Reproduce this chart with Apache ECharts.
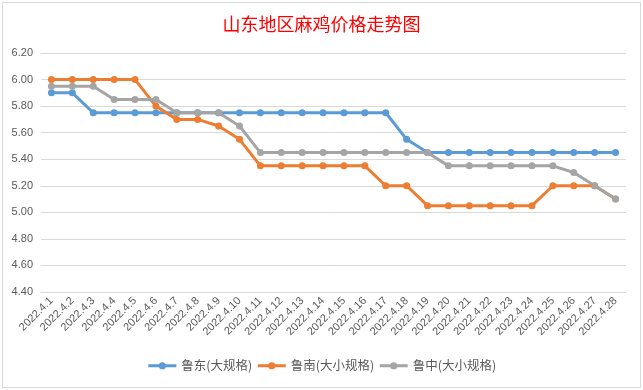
<!DOCTYPE html>
<html>
<head>
<meta charset="utf-8">
<script src="https://cdn.jsdelivr.net/npm/echarts@6/dist/echarts.min.js"></script>
<style>
html,body{margin:0;padding:0;background:#fff;}
#wrap{position:relative;width:643px;height:390px;}
#chart{position:absolute;left:0;top:0;width:643px;height:390px;}
#border{position:absolute;left:2px;top:2px;width:637px;height:384px;border:1px solid #d9d9d9;pointer-events:none;}
</style>
</head>
<body>
<div id="wrap"><div id="chart"></div><div id="border"></div></div>
<script>
const categories = ["2022.4.1","2022.4.2","2022.4.3","2022.4.4","2022.4.5","2022.4.6","2022.4.7","2022.4.8","2022.4.9","2022.4.10","2022.4.11","2022.4.12","2022.4.13","2022.4.14","2022.4.15","2022.4.16","2022.4.17","2022.4.18","2022.4.19","2022.4.20","2022.4.21","2022.4.22","2022.4.23","2022.4.24","2022.4.25","2022.4.26","2022.4.27","2022.4.28"];
const ludong = [5.90,5.90,5.75,5.75,5.75,5.75,5.75,5.75,5.75,5.75,5.75,5.75,5.75,5.75,5.75,5.75,5.75,5.55,5.45,5.45,5.45,5.45,5.45,5.45,5.45,5.45,5.45,5.45];
const lunan = [6.00,6.00,6.00,6.00,6.00,5.80,5.70,5.70,5.65,5.55,5.35,5.35,5.35,5.35,5.35,5.35,5.20,5.20,5.05,5.05,5.05,5.05,5.05,5.05,5.20,5.20,5.20,5.10];
const luzhong = [5.95,5.95,5.95,5.85,5.85,5.85,5.75,5.75,5.75,5.65,5.45,5.45,5.45,5.45,5.45,5.45,5.45,5.45,5.45,5.35,5.35,5.35,5.35,5.35,5.35,5.30,5.20,5.10];
const seriesNames = ["鲁东(大规格)","鲁南(大小规格)","鲁中(大小规格)"];
const colors = ["#5B9BD5","#ED7D31","#A5A5A5"];
const titleText = "山东地区麻鸡价格走势图";

const chart = echarts.init(document.getElementById('chart'), null, {renderer:'canvas'});
const dataSets = [ludong, lunan, luzhong];
chart.setOption({
  animation:false,
  backgroundColor:'#fff',
  color: colors,
  title:{
    text:titleText, left:'center', top:10,
    textStyle:{color:'#FF0000', fontSize:18, fontWeight:'normal', fontFamily:'Noto Sans CJK SC'}
  },
  legend:{
    bottom:13, left:'center',
    itemWidth:28, itemHeight:9, itemGap:4,
    lineStyle:{width:3},
    textStyle:{color:'#595959', fontSize:12.5, fontFamily:'Noto Sans CJK SC'},
    data: seriesNames
  },
  grid:{left:41, right:17, top:53, bottom:98, containLabel:false},
  xAxis:{
    type:'category', data:categories, boundaryGap:true,
    axisLine:{show:true, lineStyle:{color:'#d9d9d9', width:1}},
    axisTick:{show:false},
    axisLabel:{rotate:45, interval:0, color:'#595959', fontSize:11, margin:7, fontFamily:'Liberation Sans'}
  },
  yAxis:{
    type:'value', min:4.4, max:6.2, interval:0.2,
    axisLine:{show:false}, axisTick:{show:false},
    splitLine:{lineStyle:{color:'#d9d9d9', width:1}},
    axisLabel:{color:'#595959', fontSize:11, margin:8, fontFamily:'Liberation Sans', formatter:v=>v.toFixed(2)}
  },
  series: dataSets.map((d,i)=>({
    name:seriesNames[i], type:'line', data:d,
    symbol:'circle', symbolSize:7, showSymbol:true,
    lineStyle:{width:3, color:colors[i]},
    itemStyle:{color:colors[i]}
  }))
});
</script>
</body>
</html>
